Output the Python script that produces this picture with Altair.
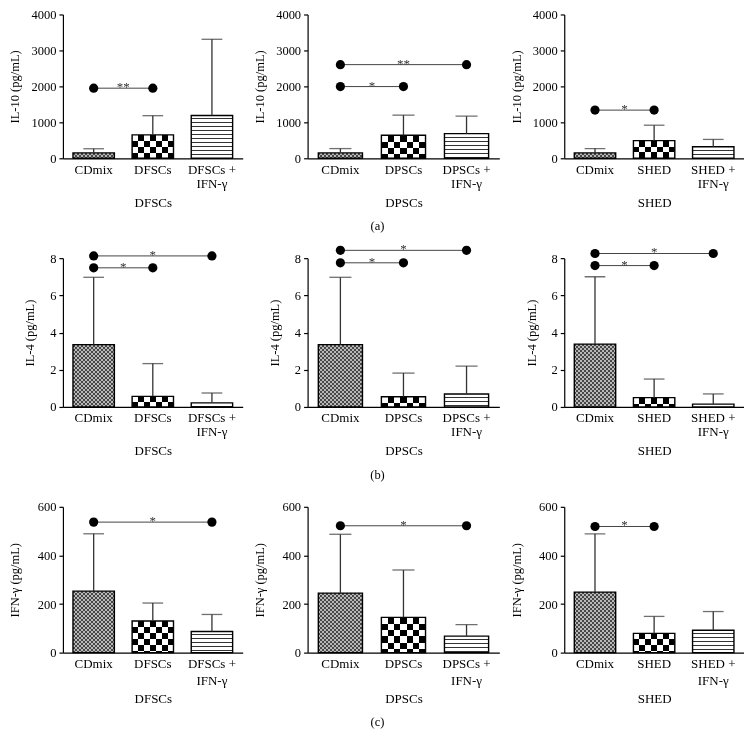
import math
import altair as alt
import pandas as pd

FONT = "Liberation Serif"

groups = ["DFSCs", "DPSCs", "SHED"]
cytokine_titles = ["IL-10 (pg/mL)", "IL-4 (pg/mL)", "IFN-γ (pg/mL)"]
panel_letters = ["(a)", "(b)", "(c)"]
y_max = [4000, 8, 600]
y_ticks = [[0, 1000, 2000, 3000, 4000], [0, 2, 4, 6, 8], [0, 200, 400, 600]]

# bar means and top of error bar (mean + SD); order: CDmix, cells, cells + IFN-γ
il10_mean = [[150, 650, 1190], [150, 640, 685], [150, 490, 320]]
il10_top = [[265, 1185, 3310], [270, 1200, 1170], [270, 920, 525]]
il4_mean = [[3.35, 0.57, 0.22], [3.35, 0.55, 0.70], [3.38, 0.50, 0.15]]
il4_top = [[6.97, 2.33, 0.75], [6.97, 1.82, 2.20], [7.00, 1.50, 0.70]]
ifng_mean = [[253, 130, 87], [245, 145, 68], [249, 79, 92]]
ifng_top = [[489, 204, 157], [487, 340, 115], [489, 149, 169]]

# significance brackets: (row, col, from index, to index, height, label)
brackets = [
    (0, 0, 0, 1, 1950, "**"),
    (0, 1, 0, 1, 1995, "*"),
    (0, 1, 0, 2, 2605, "**"),
    (0, 2, 0, 1, 1340, "*"),
    (1, 0, 0, 1, 7.48, "*"),
    (1, 0, 0, 2, 8.12, "*"),
    (1, 1, 0, 1, 7.75, "*"),
    (1, 1, 0, 2, 8.42, "*"),
    (1, 2, 0, 1, 7.6, "*"),
    (1, 2, 0, 2, 8.25, "*"),
    (2, 0, 0, 2, 537, "*"),
    (2, 1, 0, 2, 522, "*"),
    (2, 2, 0, 1, 519, "*"),
]

means_all = [il10_mean, il4_mean, ifng_mean]
tops_all = [il10_top, il4_top, ifng_top]

WIDTHS = [180, 192, 180]
H = [144, 149, 146]
P_IN, P_OUT = 0.3, 0.17
MIN_EXT = [35, 20, 35]
LINE_H = [14, 14, 16.5]
X_TITLE_PAD = [6, 6, 5]


def banded(length, pattern, vertical):
    if length <= 0.5:
        return pattern[0][1]
    stops = []
    pos = 0.0
    i = 0
    while pos < length - 1e-6:
        size, color = pattern[i % len(pattern)]
        a = min(pos / length, 1.0)
        b = min((pos + size) / length, 1.0)
        stops.append({"offset": round(a, 5), "color": color})
        stops.append({"offset": round(b, 5), "color": color})
        pos += size
        i += 1
    return {
        "gradient": "linear",
        "x1": 0, "y1": 0,
        "x2": 0 if vertical else 1,
        "y2": 1 if vertical else 0,
        "stops": stops,
    }


def fills_for(i, h, bw):
    if i == 0:  # fine grey checker
        return [
            (banded(bw, [(2, "#474747"), (2, "#b8b8b8")], False), False),
            (banded(h, [(2, "#000000"), (2, "#ffffff")], True), True),
        ]
    if i == 1:  # black/white checkerboard
        cell = bw / 7
        return [
            (banded(bw, [(cell, "#000000"), (cell, "#ffffff")], False), False),
            (banded(h, [(cell, "#ffffff"), (cell, "#000000")], True), True),
        ]
    # horizontal lines
    return [(banded(h, [(2.9, "#ffffff"), (1.1, "#333333")], True), False)]


def panel(r, c):
    g = groups[c]
    cats = ["CDmix", g, g + " + IFN-γ"]
    means = means_all[r][c]
    tops = tops_all[r][c]
    df = pd.DataFrame({"cat": cats, "mean": means, "top": tops})
    w = WIDTHS[c]
    step = w / (3 - P_IN + 2 * P_OUT)
    bw = step * (1 - P_IN)

    xscale = alt.Scale(domain=cats, paddingInner=P_IN, paddingOuter=P_OUT)
    xaxis = alt.Axis(
        title=g, labelAngle=0, ticks=False, labelPadding=5, domainColor="black",
        domainWidth=1.2, labelColor="black", titleColor="black", labelFontSize=13,
        titleFontSize=13, titleFontWeight="normal", titlePadding=X_TITLE_PAD[r],
        labelLineHeight=LINE_H[r],
        labelExpr="indexof(datum.label, ' + ') > 0 ? [split(datum.label, ' + ')[0] + ' +', split(datum.label, ' + ')[1]] : datum.label",
    )
    yscale = alt.Scale(domain=[0, y_max[r]], nice=False, zero=True)
    yaxis = alt.Axis(
        title=cytokine_titles[r], values=y_ticks[r], format="d", grid=False, tickSize=4,
        tickColor="black", tickWidth=1.2, domainColor="black", domainWidth=1.2,
        labelColor="black", titleColor="black", labelFontSize=12.5, titleFontSize=12.5,
        titleFontWeight="normal", labelPadding=3, minExtent=MIN_EXT[r], titlePadding=6,
    )

    def X(field="cat"):
        return alt.X(f"{field}:N", scale=xscale, axis=xaxis, sort=cats)

    def Y(field="mean"):
        return alt.Y(f"{field}:Q", scale=yscale, axis=yaxis)

    base = alt.Chart(df)
    layers = []
    for i, cat in enumerate(cats):
        h = means[i] / y_max[r] * H[r]
        sub = base.transform_filter(alt.datum.cat == cat)
        for grad, blend in fills_for(i, h, bw):
            kw = {"fill": grad, "strokeWidth": 0}
            if blend:
                kw["blend"] = "difference"
            layers.append(sub.mark_bar(**kw).encode(x=X(), y=Y()))
    layers.append(base.mark_bar(fillOpacity=0, stroke="black", strokeWidth=1.4).encode(x=X(), y=Y()))
    layers.append(base.mark_rule(color="#333333", strokeWidth=1.3).encode(
        x=X(), y=Y("mean"), y2=alt.Y2("top")))
    layers.append(base.mark_tick(color="#333333", thickness=1.3, size=bw / 2).encode(
        x=X(), y=Y("top")))

    rows = [b for b in brackets if b[0] == r and b[1] == c]
    if rows:
        bdf = pd.DataFrame({
            "x1": [cats[b[2]] for b in rows],
            "x2": [cats[b[3]] for b in rows],
            "y": [b[4] for b in rows],
            "label": [b[5] for b in rows],
            "span": [b[3] - b[2] for b in rows],
        })
        bc = alt.Chart(bdf)
        layers.append(bc.mark_rule(color="#444444", strokeWidth=1).encode(
            x=X("x1"), x2=alt.X2("x2:N"), y=Y("y")))
        layers.append(bc.mark_circle(size=85, color="black", opacity=1).encode(x=X("x1"), y=Y("y")))
        layers.append(bc.mark_circle(size=85, color="black", opacity=1).encode(x=X("x2"), y=Y("y")))
        for span in sorted(set(bdf["span"])):
            layers.append(bc.transform_filter(alt.datum.span == int(span)).mark_text(
                font=FONT, fontSize=13, color="#333333", baseline="alphabetic", dy=3,
                dx=span * step / 2,
            ).encode(x=X("x1"), y=Y("y"), text="label:N"))

    ch = alt.layer(*layers).properties(width=w, height=H[r])
    if c == 1:
        ch = ch.properties(title=alt.TitleParams(
            panel_letters[r], orient="bottom", font=FONT, fontSize=12.5, fontWeight="normal",
            color="black", offset=11, dx=-26))
    return ch


panels = [panel(r, c) for r in range(3) for c in range(3)]

chart = alt.concat(*panels, columns=3, spacing={"row": 100, "column": 65}).properties(
    bounds="flush", padding={"left": 1, "top": 0, "right": 0, "bottom": 0}
).configure_view(stroke=None).configure_axis(
    labelFont=FONT, titleFont=FONT
).configure_text(font=FONT)

chart.save("out.html", embed_options={"renderer": "svg", "actions": False})
